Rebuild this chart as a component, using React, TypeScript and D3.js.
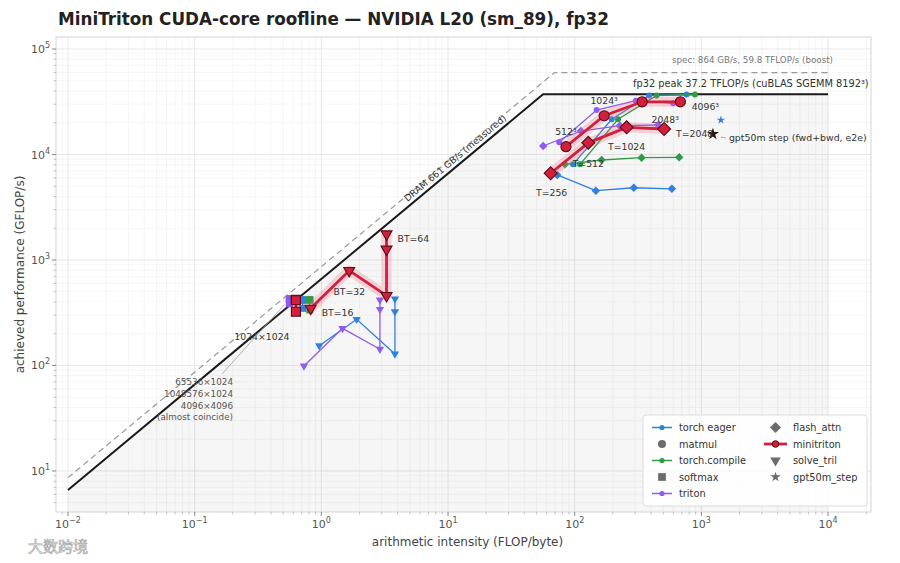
import * as d3 from 'd3';

const W = 900;
const H = 563;
const PLOT = { left: 56, right: 871, top: 37, bottom: 512 };

// rooflines (GB/s, GFLOP/s)
const dramMeasured = 661;
const peakMeasured = 37200;
const dramSpec = 864;
const peakSpec = 59800;

const xTickVals = [1e-2, 1e-1, 1, 10, 100, 1e3, 1e4];
const xTickExp = ['−2', '−1', '0', '1', '2', '3', '4'];
const yTickVals = [10, 100, 1e3, 1e4, 1e5];
const yTickExp = ['1', '2', '3', '4', '5'];

const impls = ['torch eager', 'torch.compile', 'triton', 'minitriton'];
const implColors = ['#2f80e0', '#2f9a48', '#8c5cf0', '#d1203d'];

// matmul N³ : [AI FLOP/byte, GFLOP/s]
const matmulSizes = ['512³', '1024³', '2048³', '4096³'];
const matmulEager = [[97, 8070], [196, 21600], [387, 36300], [764, 37000]];
const matmulCompile = [[110, 8070], [220, 21600], [443, 36300], [889, 37000]];
const matmulTriton = [[75.5, 13100], [149, 26400], [304, 32400], [599, 30600]];
const matmulMini = [[85.3, 11860], [170.7, 23300], [341, 31600], [683, 31600]];

// flash_attn by sequence length
const flashSeq = ['T=256', 'T=512', 'T=1024', 'T=2048'];
const flashEager = [[72.8, 6400], [147, 4540], [293, 4840], [585, 4730]];
const flashCompile = [[83.7, 8070], [163, 8870], [337, 9330], [668, 9400]];
const flashTriton = [[56.4, 12040], [112, 16700], [227, 18750], [456, 19050]];
const flashMini = [[64.6, 6640], [128, 12900], [257, 18100], [508, 17450]];

// softmax: 65536×1024, 1048576×1024, 4096×4096, 1024×1024
const softmaxShapes = ['65536×1024', '1048576×1024', '4096×4096', '1024×1024'];
const softmaxEager = [[0.711, 418], [0.711, 420], [0.711, 415], [0.711, 348]];
const softmaxCompile = [[0.81, 418], [0.81, 416], [0.81, 420], [0.81, 336]];
const softmaxTriton = [[0.559, 430], [0.559, 425], [0.559, 428], [0.559, 385]];
const softmaxMini = [[0.63, 418], [0.63, 420], [0.63, 416], [0.63, 323]];

// solve_tril by block size
const solveEager = [[0.962, 154], [1.9, 274], [3.81, 128.5], [3.81, 323], [3.81, 427]];
const solveTriton = [[0.729, 99], [1.47, 225], [2.9, 142.5], [2.9, 341], [2.9, 418]];
const solveMini = [[0.824, 348], [1.66, 792], [3.27, 459], [3.27, 1263], [3.27, 1763]];
const solveLabels = ['BT=16', 'BT=32', 'BT=64'];

// gpt50m train step end-to-end
const gptEager = [[1426, 21230]];
const gptMini = [[1233, 15640]];

const x = d3.scaleLog().domain([10 ** -2.0947, 10 ** 4.339]).range([PLOT.left, PLOT.right]);
const y = d3.scaleLog().domain([10 ** 0.611, 10 ** 5.114]).range([PLOT.bottom, PLOT.top]);

const line = d3
  .line<number[]>()
  .x((d) => x(d[0]))
  .y((d) => y(d[1]));

type Kind = 'circle' | 'square' | 'diamond' | 'tri' | 'star';

const symbolFor = (kind: Kind, area: number) => {
  const t =
    kind === 'circle'
      ? d3.symbolCircle
      : kind === 'square' || kind === 'diamond'
      ? d3.symbolSquare
      : kind === 'tri'
      ? d3.symbolTriangle
      : d3.symbolStar;
  return d3.symbol().type(t).size(area)() || '';
};
const rotFor = (kind: Kind) => (kind === 'diamond' ? 45 : kind === 'tri' ? 180 : 0);

const smallArea: Record<Kind, number> = { circle: 28, square: 49, diamond: 36, tri: 30, star: 22 };
const bigArea: Record<Kind, number> = { circle: 80, square: 81, diamond: 84, tri: 52, star: 45 };

const series = [
  { impl: 0, kind: 'circle' as Kind, pts: matmulEager },
  { impl: 1, kind: 'circle' as Kind, pts: matmulCompile },
  { impl: 2, kind: 'circle' as Kind, pts: matmulTriton },
  { impl: 0, kind: 'diamond' as Kind, pts: flashEager },
  { impl: 1, kind: 'diamond' as Kind, pts: flashCompile },
  { impl: 2, kind: 'diamond' as Kind, pts: flashTriton },
  { impl: 0, kind: 'square' as Kind, pts: softmaxEager },
  { impl: 1, kind: 'square' as Kind, pts: softmaxCompile },
  { impl: 2, kind: 'square' as Kind, pts: softmaxTriton },
  { impl: 0, kind: 'tri' as Kind, pts: solveEager },
  { impl: 2, kind: 'tri' as Kind, pts: solveTriton },
  { impl: 0, kind: 'star' as Kind, pts: gptEager },
];

const miniSeries = [
  { kind: 'circle' as Kind, pts: matmulMini },
  { kind: 'diamond' as Kind, pts: flashMini },
  { kind: 'square' as Kind, pts: softmaxMini },
  { kind: 'tri' as Kind, pts: solveMini },
];

const roof = (bw: number, peak: number) => {
  const ridge = peak / bw;
  return [
    [1e-2, bw * 1e-2],
    [ridge, peak],
    [1e4, peak],
  ];
};

const minorTicks = (lo: number, hi: number) => {
  const out: number[] = [];
  for (let e = lo; e < hi; e++) for (let k = 2; k <= 9; k++) out.push(k * 10 ** e);
  return out;
};

const Sup = ({ base, exp }: { base: string; exp: string }) => (
  <>
    <tspan>{base}</tspan>
    <tspan dy={-5} fontSize={8}>
      {exp}
    </tspan>
  </>
);

const App = () => {
  const font = 'DejaVu Sans, Verdana, sans-serif';
  const measured = roof(dramMeasured, peakMeasured);
  const spec = roof(dramSpec, peakSpec);
  const fillPts = [...measured, [1e4, y.domain()[0]], [1e-2, y.domain()[0]]];

  const xMinor = minorTicks(-3, 5).filter((v) => x(v) > PLOT.left && x(v) < PLOT.right);
  const yMinor = minorTicks(0, 5).filter((v) => y(v) < PLOT.bottom && y(v) > PLOT.top);

  // DRAM label placed along the measured roof
  const dramAngle =
    (Math.atan2(y(dramMeasured * 1) - y(dramMeasured * 10), x(10) - x(1)) * 180) / Math.PI;
  const dramAt = 12.4;

  const markers = (pts: number[][], kind: Kind, area: number, fill: string, stroke?: string, sw = 0) =>
    pts.map((p, i) => (
      <path
        key={i}
        d={symbolFor(kind, area)}
        transform={`translate(${x(p[0])},${y(p[1])}) rotate(${rotFor(kind)})`}
        fill={fill}
        stroke={stroke || 'none'}
        strokeWidth={sw}
      />
    ));

  const miniRed = implColors[3];
  const miniEdge = '#5c0a16';

  // label offsets (px) relative to minitriton points
  const matmulOff = [[0, -12, 'middle'], [0, -12, 'middle'], [23, 21, 'middle'], [25, 8, 'middle']];
  const flashOff = [[1, 23, 'middle'], [0, 24, 'middle'], [0, 23, 'middle'], [12, 8, 'start']];
  const solveOff = [[11, 8, 'start'], [0, 24, 'middle'], [11, 8, 'start']];
  const solveIdx = [0, 1, 4];

  const triSoft = softmaxTriton[0];
  const tsx = x(triSoft[0]);
  const tsy = y(triSoft[1]);

  const legendX = 643;
  const legendY = 415;
  const rowY = (i: number) => legendY + 12.5 + i * 16.5;
  const gray = '#6b6b6b';

  return (
    <svg
      width={W}
      height={H}
      style={{ position: 'absolute', left: 0, top: 0, background: '#fff' }}
      fontFamily={font}
    >
      <text x={58} y={25} fontSize={16.8} fontWeight="bold" fill="#222">
        MiniTriton CUDA-core roofline — NVIDIA L20 (sm_89), fp32
      </text>

      <defs>
        <clipPath id="plotclip">
          <rect x={PLOT.left} y={PLOT.top} width={PLOT.right - PLOT.left} height={PLOT.bottom - PLOT.top} />
        </clipPath>
      </defs>

      {/* grid */}
      <g>
        {xMinor.map((v, i) => (
          <line key={'xm' + i} x1={x(v)} x2={x(v)} y1={PLOT.top} y2={PLOT.bottom} stroke="#f3f3f3" strokeWidth={0.8} />
        ))}
        {yMinor.map((v, i) => (
          <line key={'ym' + i} y1={y(v)} y2={y(v)} x1={PLOT.left} x2={PLOT.right} stroke="#f3f3f3" strokeWidth={0.8} />
        ))}
        {xTickVals.map((v, i) => (
          <line key={'xg' + i} x1={x(v)} x2={x(v)} y1={PLOT.top} y2={PLOT.bottom} stroke="#e4e4e4" strokeWidth={0.9} />
        ))}
        {yTickVals.map((v, i) => (
          <line key={'yg' + i} y1={y(v)} y2={y(v)} x1={PLOT.left} x2={PLOT.right} stroke="#e4e4e4" strokeWidth={0.9} />
        ))}
      </g>

      <g clipPath="url(#plotclip)">
        <path d={line(fillPts) || ''} fill="#000" fillOpacity={0.035} stroke="none" />
        <path d={line(spec) || ''} fill="none" stroke="#999" strokeWidth={1.2} strokeDasharray="6,4" />
        <path d={line(measured) || ''} fill="none" stroke="#1a1a1a" strokeWidth={2} />

        {/* other implementations */}
        {series.map((s, i) => (
          <g key={i}>
            {s.pts.length > 1 && (
              <path d={line(s.pts) || ''} fill="none" stroke={implColors[s.impl]} strokeWidth={1.3} />
            )}
            {markers(s.pts, s.kind, smallArea[s.kind], implColors[s.impl])}
          </g>
        ))}

        {/* minitriton */}
        {miniSeries.map((s, i) => (
          <g key={'mg' + i}>
            <path d={line(s.pts) || ''} fill="none" stroke="#f06478" strokeOpacity={0.25} strokeWidth={10} strokeLinejoin="round" />
          </g>
        ))}
        {miniSeries.map((s, i) => (
          <g key={'m' + i}>
            <path d={line(s.pts) || ''} fill="none" stroke={miniRed} strokeWidth={2.8} strokeLinejoin="round" />
            {markers(s.pts, s.kind, bigArea[s.kind], miniRed, miniEdge, 1.1)}
          </g>
        ))}
        {markers(gptMini, 'star', bigArea.star, '#2a1416')}
      </g>

      {/* frame */}
      <rect
        x={PLOT.left}
        y={PLOT.top}
        width={PLOT.right - PLOT.left}
        height={PLOT.bottom - PLOT.top}
        fill="none"
        stroke="#d4d4d4"
        strokeWidth={1}
      />

      {/* x axis ticks */}
      {xTickVals.map((v, i) => (
        <g key={'xt' + i}>
          <line x1={x(v)} x2={x(v)} y1={PLOT.bottom} y2={PLOT.bottom + 4} stroke="#888" />
          <text x={x(v)} y={PLOT.bottom + 16} textAnchor="middle" fontSize={11} fill="#555">
            <Sup base="10" exp={xTickExp[i]} />
          </text>
        </g>
      ))}
      {xMinor.map((v, i) => (
        <line key={'xmt' + i} x1={x(v)} x2={x(v)} y1={PLOT.bottom} y2={PLOT.bottom + 2.5} stroke="#aaa" strokeWidth={0.7} />
      ))}
      {/* y axis ticks */}
      {yTickVals.map((v, i) => (
        <g key={'yt' + i}>
          <line x1={PLOT.left - 4} x2={PLOT.left} y1={y(v)} y2={y(v)} stroke="#888" />
          <text x={PLOT.left - 6} y={y(v) + 4} textAnchor="end" fontSize={11} fill="#555">
            <Sup base="10" exp={yTickExp[i]} />
          </text>
        </g>
      ))}
      {yMinor.map((v, i) => (
        <line key={'ymt' + i} x1={PLOT.left - 2.5} x2={PLOT.left} y1={y(v)} y2={y(v)} stroke="#aaa" strokeWidth={0.7} />
      ))}

      <text x={(PLOT.left + PLOT.right) / 2 + 4} y={546} textAnchor="middle" fontSize={12} fill="#444">
        arithmetic intensity (FLOP/byte)
      </text>
      <text
        transform={`translate(24,${(PLOT.top + PLOT.bottom) / 2}) rotate(-90)`}
        textAnchor="middle"
        fontSize={12}
        fill="#444"
      >
        achieved performance (GFLOP/s)
      </text>

      {/* roof labels */}
      <text x={633} y={y(peakMeasured) - 7} fontSize={9.8} fill="#333">
        fp32 peak 37.2 TFLOP/s (cuBLAS SGEMM 8192³)
      </text>
      <text x={672} y={63} fontSize={8.7} fill="#777">
        spec: 864 GB/s, 59.8 TFLOP/s (boost)
      </text>
      <text
        transform={`translate(${x(dramAt)},${y(dramAt * dramMeasured)}) rotate(${-dramAngle})`}
        dy={-4}
        textAnchor="middle"
        fontSize={9.3}
        fill="#333"
      >
        DRAM 661 GB/s (measured)
      </text>

      {/* point labels */}
      {matmulMini.map((p, i) => (
        <text
          key={'ml' + i}
          x={x(p[0]) + (matmulOff[i][0] as number)}
          y={y(p[1]) + (matmulOff[i][1] as number)}
          textAnchor={matmulOff[i][2] as string}
          fontSize={9.3}
          fill="#333"
        >
          {matmulSizes[i]}
        </text>
      ))}
      {flashMini.map((p, i) => (
        <text
          key={'fl' + i}
          x={x(p[0]) + (flashOff[i][0] as number)}
          y={y(p[1]) + (flashOff[i][1] as number)}
          textAnchor={flashOff[i][2] as string}
          fontSize={9.3}
          fill="#333"
        >
          {flashSeq[i]}
        </text>
      ))}
      {solveIdx.map((pi, i) => (
        <text
          key={'sl' + i}
          x={x(solveMini[pi][0]) + (solveOff[i][0] as number)}
          y={y(solveMini[pi][1]) + (solveOff[i][1] as number)}
          textAnchor={solveOff[i][2] as string}
          fontSize={9.3}
          fill="#333"
        >
          {solveLabels[i]}
        </text>
      ))}

      {/* gpt step */}
      <line
        x1={x(gptMini[0][0]) + 8}
        y1={y(gptMini[0][1]) + 3}
        x2={x(gptMini[0][0]) + 13}
        y2={y(gptMini[0][1]) + 4}
        stroke="#999"
        strokeWidth={0.8}
      />
      <text x={x(gptMini[0][0]) + 16} y={y(gptMini[0][1]) + 7} fontSize={9.4} fill="#333">
        gpt50m step (fwd+bwd, e2e)
      </text>

      {/* softmax annotations */}
      <text x={x(softmaxMini[3][0]) - 34} y={y(softmaxMini[3][1]) + 28} textAnchor="middle" fontSize={9.3} fill="#333">
        {softmaxShapes[3]}
      </text>
      <line x1={222} y1={374} x2={tsx - 5} y2={tsy + 6} stroke="#a0a0a0" strokeWidth={0.8} />
      {[softmaxShapes[0], softmaxShapes[1], softmaxShapes[2], '(almost coincide)'].map((t, i) => (
        <text key={'sa' + i} x={233} y={385 + i * 11.8} textAnchor="end" fontSize={8.8} fill="#555">
          {t}
        </text>
      ))}

      {/* legend */}
      <rect
        x={legendX}
        y={legendY}
        width={224}
        height={91}
        rx={3}
        fill="#fff"
        fillOpacity={0.85}
        stroke="#dcdcdc"
      />
      {[
        { label: 'torch eager', impl: 0 },
        { label: 'matmul', kind: 'circle' as Kind },
        { label: 'torch.compile', impl: 1 },
        { label: 'softmax', kind: 'square' as Kind },
        { label: 'triton', impl: 2 },
      ].map((e, i) => (
        <g key={'lg1' + i}>
          {e.impl !== undefined ? (
            <g>
              <line x1={652} x2={672} y1={rowY(i)} y2={rowY(i)} stroke={implColors[e.impl]} strokeWidth={1.5} />
              <circle cx={662} cy={rowY(i)} r={2.6} fill={implColors[e.impl]} />
            </g>
          ) : (
            <path
              d={symbolFor(e.kind!, e.kind === 'circle' ? 50 : 60)}
              transform={`translate(662,${rowY(i)}) rotate(${rotFor(e.kind!)})`}
              fill={gray}
            />
          )}
          <text x={679} y={rowY(i) + 3.5} fontSize={9.8} fill="#333">
            {e.label}
          </text>
        </g>
      ))}
      {[
        { label: 'flash_attn', kind: 'diamond' as Kind },
        { label: 'minitriton', kind: undefined },
        { label: 'solve_tril', kind: 'tri' as Kind },
        { label: 'gpt50m_step', kind: 'star' as Kind },
      ].map((e, i) => (
        <g key={'lg2' + i}>
          {e.kind === undefined ? (
            <g>
              <line x1={764} x2={787} y1={rowY(i)} y2={rowY(i)} stroke={miniRed} strokeWidth={2.8} />
              <circle cx={775.5} cy={rowY(i)} r={3.3} fill={miniRed} stroke={miniEdge} strokeWidth={1} />
            </g>
          ) : (
            <path
              d={symbolFor(e.kind, e.kind === 'diamond' ? 60 : e.kind === 'tri' ? 48 : 32)}
              transform={`translate(775.5,${rowY(i)}) rotate(${rotFor(e.kind)})`}
              fill={gray}
            />
          )}
          <text x={793} y={rowY(i) + 3.5} fontSize={9.8} fill="#333">
            {e.label}
          </text>
        </g>
      ))}

      {/* watermark */}
      <text
        x={28}
        y={552}
        fontSize={15}
        fontFamily="Noto Sans CJK SC"
        fill="#fff"
        stroke="#a8a8a8"
        strokeWidth={0.7}
      >
        大数跨境
      </text>
    </svg>
  );
};

export default App;
